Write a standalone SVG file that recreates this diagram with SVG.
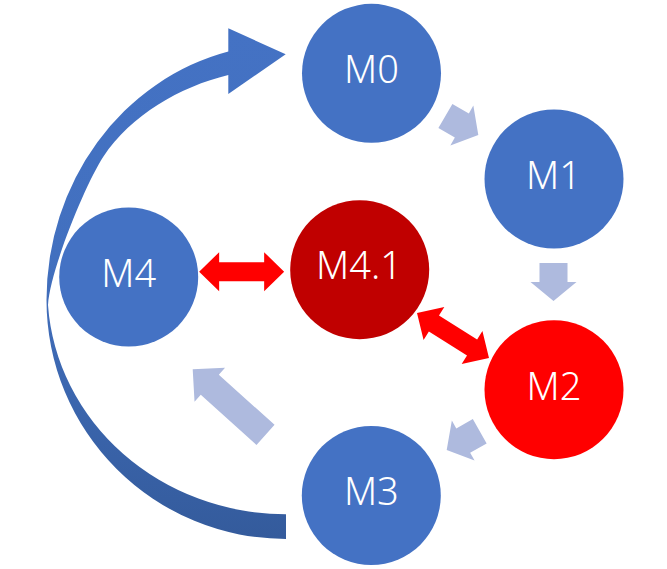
<svg xmlns="http://www.w3.org/2000/svg" width="667" height="569" viewBox="0 0 667 569">
  <defs>
    <linearGradient id="arcGrad" x1="0" y1="0" x2="0" y2="1">
      <stop offset="0" stop-color="#4472C4"/>
      <stop offset="0.45" stop-color="#4270BF"/>
      <stop offset="1" stop-color="#345B9C"/>
    </linearGradient>
    <polygon id="smallArrow" points="-38,-14 -19,-14 -19,-23 0,0 -19,23 -19,14 -38,14"/>
    <polygon id="dblArrow" points="-42.5,0 -22.5,-19.5 -22.5,-9.5 22.5,-9.5 22.5,-19.5 42.5,0 22.5,19.5 22.5,9.5 -22.5,9.5 -22.5,19.5"/>
  </defs>
  <style>
    .blue { fill: #4472C4; }
    .dark { fill: #C00000; }
    .red { fill: #FF0000; }
    .light { fill: #AEBADE; }
    .dbl { fill: #FF0000; }
    .lbl { font-family: "Noto Sans", "Open Sans", "Liberation Sans", sans-serif; font-weight: 300; font-size: 38px; fill: #FFFFFF; text-anchor: middle; }
  </style>
  <rect width="667" height="569" fill="#FFFFFF"/>

  <g id="connectors">
    <path id="loop-arrow" fill="url(#arcGrad)" d="M 286,539 A 239.5,239 0 0 1 46.5,300 A 239.5,256 0 0 1 228.3,51.5 L 228.3,28.3 L 285.7,54.3 L 228.3,94 L 228.3,75 C 179.7,86.8 131,115.1 103.3,156.7 C 86,183 50,270 48,305 A 238.5,224.2 0 0 0 286,514.2 Z"/>
    <use href="#smallArrow" class="light" transform="translate(478.3,135) rotate(30)"/>
    <use href="#smallArrow" class="light" transform="translate(553.5,301) rotate(90)"/>
    <use href="#smallArrow" class="light" transform="translate(446.7,450) rotate(150.4)"/>
    <polygon class="light" points="-98,-13.5 -23,-13.5 -23,-22.8 0,0 -23,22.8 -23,13.5 -98,13.5" transform="translate(192.7,369.3) rotate(222)"/>
    <use href="#dblArrow" class="dbl" transform="translate(241.65,271.7)"/>
    <use href="#dblArrow" class="dbl" transform="translate(453,335.5) rotate(32.13)"/>
  </g>

  <g id="M0">
    <circle class="blue" cx="371.5" cy="73.3" r="69.5"/>
    <text class="lbl" x="371.5" y="83.3">M0</text>
  </g>
  <g id="M1">
    <circle class="blue" cx="554" cy="179" r="69.5"/>
    <text class="lbl" x="553.5" y="188.5">M1</text>
  </g>
  <g id="M2">
    <circle class="red" cx="554" cy="389.7" r="69.5"/>
    <text class="lbl" x="554" y="399.7">M2</text>
  </g>
  <g id="M3">
    <circle class="blue" cx="371.3" cy="495.5" r="69.5"/>
    <text class="lbl" x="371.3" y="505">M3</text>
  </g>
  <g id="M4">
    <circle class="blue" cx="128.7" cy="277" r="69.5"/>
    <text class="lbl" x="128.7" y="286.7">M4</text>
  </g>
  <g id="M4.1">
    <circle class="dark" cx="359.7" cy="269.7" r="69.5"/>
    <text class="lbl" x="359" y="279.3">M4.1</text>
  </g>
</svg>
